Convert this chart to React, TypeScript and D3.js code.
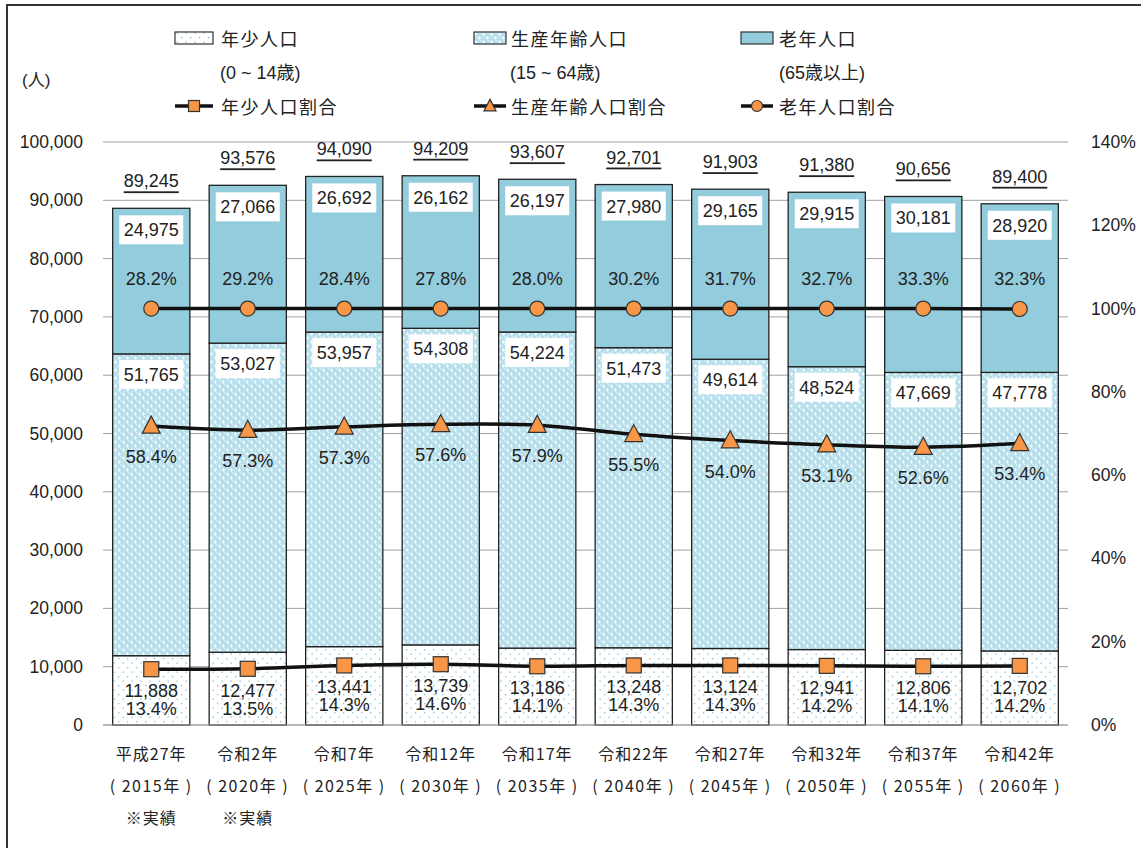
import * as d3 from "d3";
import React from "react";

// 年次
const eras = ["平成27年", "令和2年", "令和7年", "令和12年", "令和17年", "令和22年", "令和27年", "令和32年", "令和37年", "令和42年"];
const years = ["2015", "2020", "2025", "2030", "2035", "2040", "2045", "2050", "2055", "2060"];
const actual = [true, true, false, false, false, false, false, false, false, false];

// 人口
const totals = [89245, 93576, 94090, 94209, 93607, 92701, 91903, 91380, 90656, 89400];
const young = [11888, 12477, 13441, 13739, 13186, 13248, 13124, 12941, 12806, 12702];
const working = [51765, 53027, 53957, 54308, 54224, 51473, 49614, 48524, 47669, 47778];
const elderly = [24975, 27066, 26692, 26162, 26197, 27980, 29165, 29915, 30181, 28920];

// 割合 (%)
const youngPct = [13.4, 13.5, 14.3, 14.6, 14.1, 14.3, 14.3, 14.2, 14.1, 14.2];
const workingPct = [58.4, 57.3, 57.3, 57.6, 57.9, 55.5, 54.0, 53.1, 52.6, 53.4];
const elderlyPct = [28.2, 29.2, 28.4, 27.8, 28.0, 30.2, 31.7, 32.7, 33.3, 32.3];

const leftTicks = [0, 10000, 20000, 30000, 40000, 50000, 60000, 70000, 80000, 90000, 100000];
const rightTicks = [0, 20, 40, 60, 80, 100, 120, 140];

const W = 1141;
const H = 848;
const FONT = "'Liberation Sans', Arial, 'Noto Sans CJK JP', sans-serif";
const JFONT = "'Noto Sans CJK JP', 'Liberation Sans', sans-serif";
const ORANGE = "#f79646";
const OLD = "#93cddd";

export default function App() {
  const x = d3.scaleBand<string>().domain(years).range([103, 1068]).paddingInner(0.2).paddingOuter(0.1);
  const y = d3.scaleLinear().domain([0, 100000]).range([725, 142]);
  const yr = d3.scaleLinear().domain([0, 140]).range([725, 142]);
  const bw = x.bandwidth();
  const cx = (i: number) => (x(years[i]) as number) + bw / 2;

  // 積み上げ位置
  const stackTop1 = young;
  const stackTop2 = young.map((v, i) => v + working[i]);
  const stackTop3 = stackTop2.map((v, i) => v + elderly[i]);
  const cum1 = youngPct;
  const cum2 = youngPct.map((v, i) => v + workingPct[i]);
  const cum3 = cum2.map((v, i) => v + elderlyPct[i]);

  const line = d3
    .line<number>()
    .x((d, i) => cx(i))
    .y(d => yr(d))
    .curve(d3.curveCatmullRom.alpha(0.5));

  const fmt = d3.format(",");
  const pct = (v: number) => v.toFixed(1) + "%";

  const square = (px: number, py: number, s: number, k?: string) => (
    <rect key={k} x={px - s / 2} y={py - s / 2} width={s} height={s} fill={ORANGE} stroke="#333" strokeWidth={1.2} />
  );
  const triangle = (px: number, py: number, s: number, k?: string) => (
    <path
      key={k}
      d={`M${px},${py - s * 0.55}L${px + s / 2},${py + s * 0.4}L${px - s / 2},${py + s * 0.4}Z`}
      fill={ORANGE}
      stroke="#333"
      strokeWidth={1.2}
    />
  );
  const circle = (px: number, py: number, r: number, k?: string) => (
    <circle key={k} cx={px} cy={py} r={r} fill={ORANGE} stroke="#333" strokeWidth={1.2} />
  );

  const valueBox = (i: number, top: number, v: number, k: string) => (
    <g key={k}>
      <rect x={cx(i) - 32} y={top + 7} width={64} height={29} fill="#fff" />
      <text x={cx(i)} y={top + 22} textAnchor="middle" dominantBaseline="central" fontSize={18}>
        {fmt(v)}
      </text>
    </g>
  );

  return (
    <svg
      width={W}
      height={H}
      style={{ position: "absolute", left: 0, top: 0, background: "#fff" }}
      fontFamily={FONT}
      fill="#222"
    >
      <defs>
        <pattern id="youngPat" width={9} height={9} patternUnits="userSpaceOnUse">
          <rect width={9} height={9} fill="#fff" />
          <rect x={1} y={1} width={1.3} height={1.3} fill="#7fc3da" />
          <rect x={5.5} y={5.5} width={1.3} height={1.3} fill="#7fc3da" />
        </pattern>
        <pattern id="workPat" width={8} height={8} patternUnits="userSpaceOnUse">
          <rect width={8} height={8} fill="#b8e0ec" />
          <rect x={0} y={0} width={1} height={1} fill="#e6f4f9" />
          <rect x={4} y={4} width={1} height={1} fill="#e6f4f9" />
          <rect x={2} y={1.5} width={3} height={1} fill="#fff" />
          <rect x={3} y={0.5} width={1} height={3} fill="#fff" />
          <rect x={6} y={5.5} width={3} height={1} fill="#fff" />
          <rect x={7} y={4.5} width={1} height={3} fill="#fff" />
          <rect x={-2} y={5.5} width={3} height={1} fill="#fff" />
        </pattern>
      </defs>

      <rect x={7} y={5} width={W + 20} height={H + 20} fill="#fff" stroke="#333" strokeWidth={2} />

      {/* グリッド */}
      {leftTicks.map(t => (
        <line key={t} x1={103} x2={1068} y1={y(t)} y2={y(t)} stroke="#a0a0a0" strokeWidth={1} />
      ))}
      {leftTicks.map(t => (
        <text key={"l" + t} x={83} y={y(t)} textAnchor="end" dominantBaseline="central" fontSize={17.5}>
          {fmt(t)}
        </text>
      ))}
      {rightTicks.map(t => (
        <text key={"r" + t} x={1091} y={yr(t)} textAnchor="start" dominantBaseline="central" fontSize={17.5}>
          {t + "%"}
        </text>
      ))}
      <text x={22} y={80} fontSize={17} dominantBaseline="central">
        (人)
      </text>

      {/* 棒 */}
      {years.map((yy, i) => (
        <g key={yy}>
          <rect x={x(yy)} y={y(stackTop1[i])} width={bw} height={y(0) - y(stackTop1[i])} fill="url(#youngPat)" stroke="#222" strokeWidth={1.3} />
          <rect x={x(yy)} y={y(stackTop2[i])} width={bw} height={y(stackTop1[i]) - y(stackTop2[i])} fill="url(#workPat)" stroke="#222" strokeWidth={1.3} />
          <rect x={x(yy)} y={y(stackTop3[i])} width={bw} height={y(stackTop2[i]) - y(stackTop3[i])} fill={OLD} stroke="#222" strokeWidth={1.3} />
        </g>
      ))}
      <line x1={103} x2={1068} y1={y(0)} y2={y(0)} stroke="#a0a0a0" strokeWidth={1} />

      {/* ラベル */}
      {years.map((yy, i) => (
        <g key={"lab" + yy}>
          <text x={cx(i)} y={y(stackTop3[i]) - 27} textAnchor="middle" dominantBaseline="central" fontSize={18} textDecoration="underline">
            {fmt(totals[i])}
          </text>
          {valueBox(i, y(stackTop3[i]), elderly[i], "e" + i)}
          {valueBox(i, y(stackTop2[i]) - 1, working[i], "w" + i)}
        </g>
      ))}

      {/* 折れ線 */}
      <path d={line(cum1) || ""} fill="none" stroke="#111" strokeWidth={3.5} />
      <path d={line(cum2) || ""} fill="none" stroke="#111" strokeWidth={3.5} />
      <path d={line(cum3) || ""} fill="none" stroke="#111" strokeWidth={3.5} />
      {cum1.map((v, i) => square(cx(i), yr(v), 15, "s" + i))}
      {cum2.map((v, i) => triangle(cx(i), yr(v), 18, "t" + i))}
      {cum3.map((v, i) => circle(cx(i), yr(v), 7.5, "c" + i))}

      {years.map((yy, i) => (
        <g key={"pl" + yy} fontSize={18}>
          <text x={cx(i)} y={yr(cum3[i]) - 30} textAnchor="middle" dominantBaseline="central">
            {pct(elderlyPct[i])}
          </text>
          <text x={cx(i)} y={yr(cum2[i]) + 31} textAnchor="middle" dominantBaseline="central">
            {pct(workingPct[i])}
          </text>
          <text x={cx(i)} y={yr(cum1[i]) + 22} textAnchor="middle" dominantBaseline="central">
            {fmt(young[i])}
          </text>
          <text x={cx(i)} y={yr(cum1[i]) + 40} textAnchor="middle" dominantBaseline="central">
            {pct(youngPct[i])}
          </text>
        </g>
      ))}

      {/* 横軸 */}
      {years.map((yy, i) => (
        <g key={"ax" + yy} fontFamily={JFONT} fontSize={16} letterSpacing={1}>
          <text x={cx(i)} y={753} textAnchor="middle" dominantBaseline="central">
            {eras[i]}
          </text>
          <text x={cx(i)} y={785} textAnchor="middle" dominantBaseline="central" letterSpacing={1.5}>
            {"( " + yy + "年 )"}
          </text>
          {actual[i] && (
            <text x={cx(i)} y={817} textAnchor="middle" dominantBaseline="central">
              ※実績
            </text>
          )}
        </g>
      ))}

      {/* 凡例 */}
      <g fontFamily={JFONT} fontSize={18} letterSpacing={1.5}>
        <rect x={175} y={32} width={38} height={12} fill="url(#youngPat)" stroke="#333" strokeWidth={1.2} />
        <text x={221} y={38} dominantBaseline="central">年少人口</text>
        <text x={220} y={73} dominantBaseline="central" fontFamily={FONT} letterSpacing={0}>(0 ~ 14歳)</text>
        <line x1={175} x2={213} y1={106} y2={106} stroke="#111" strokeWidth={3.5} />
        {square(194, 106, 11)}
        <text x={221} y={106} dominantBaseline="central">年少人口割合</text>

        <rect x={474} y={32} width={32} height={12} fill="url(#workPat)" stroke="#333" strokeWidth={1.2} />
        <text x={511} y={38} dominantBaseline="central">生産年齢人口</text>
        <text x={510} y={73} dominantBaseline="central" fontFamily={FONT} letterSpacing={0}>(15 ~ 64歳)</text>
        <line x1={474} x2={506} y1={106} y2={106} stroke="#111" strokeWidth={3.5} />
        {triangle(490, 106, 12)}
        <text x={511} y={106} dominantBaseline="central">生産年齢人口割合</text>

        <rect x={741} y={32} width={32} height={12} fill={OLD} stroke="#333" strokeWidth={1.2} />
        <text x={779} y={38} dominantBaseline="central">老年人口</text>
        <text x={779} y={73} dominantBaseline="central" fontFamily={FONT} letterSpacing={0}>(65歳以上)</text>
        <line x1={741} x2={773} y1={106} y2={106} stroke="#111" strokeWidth={3.5} />
        {circle(757, 106, 5.5)}
        <text x={779} y={106} dominantBaseline="central">老年人口割合</text>
      </g>
    </svg>
  );
}
